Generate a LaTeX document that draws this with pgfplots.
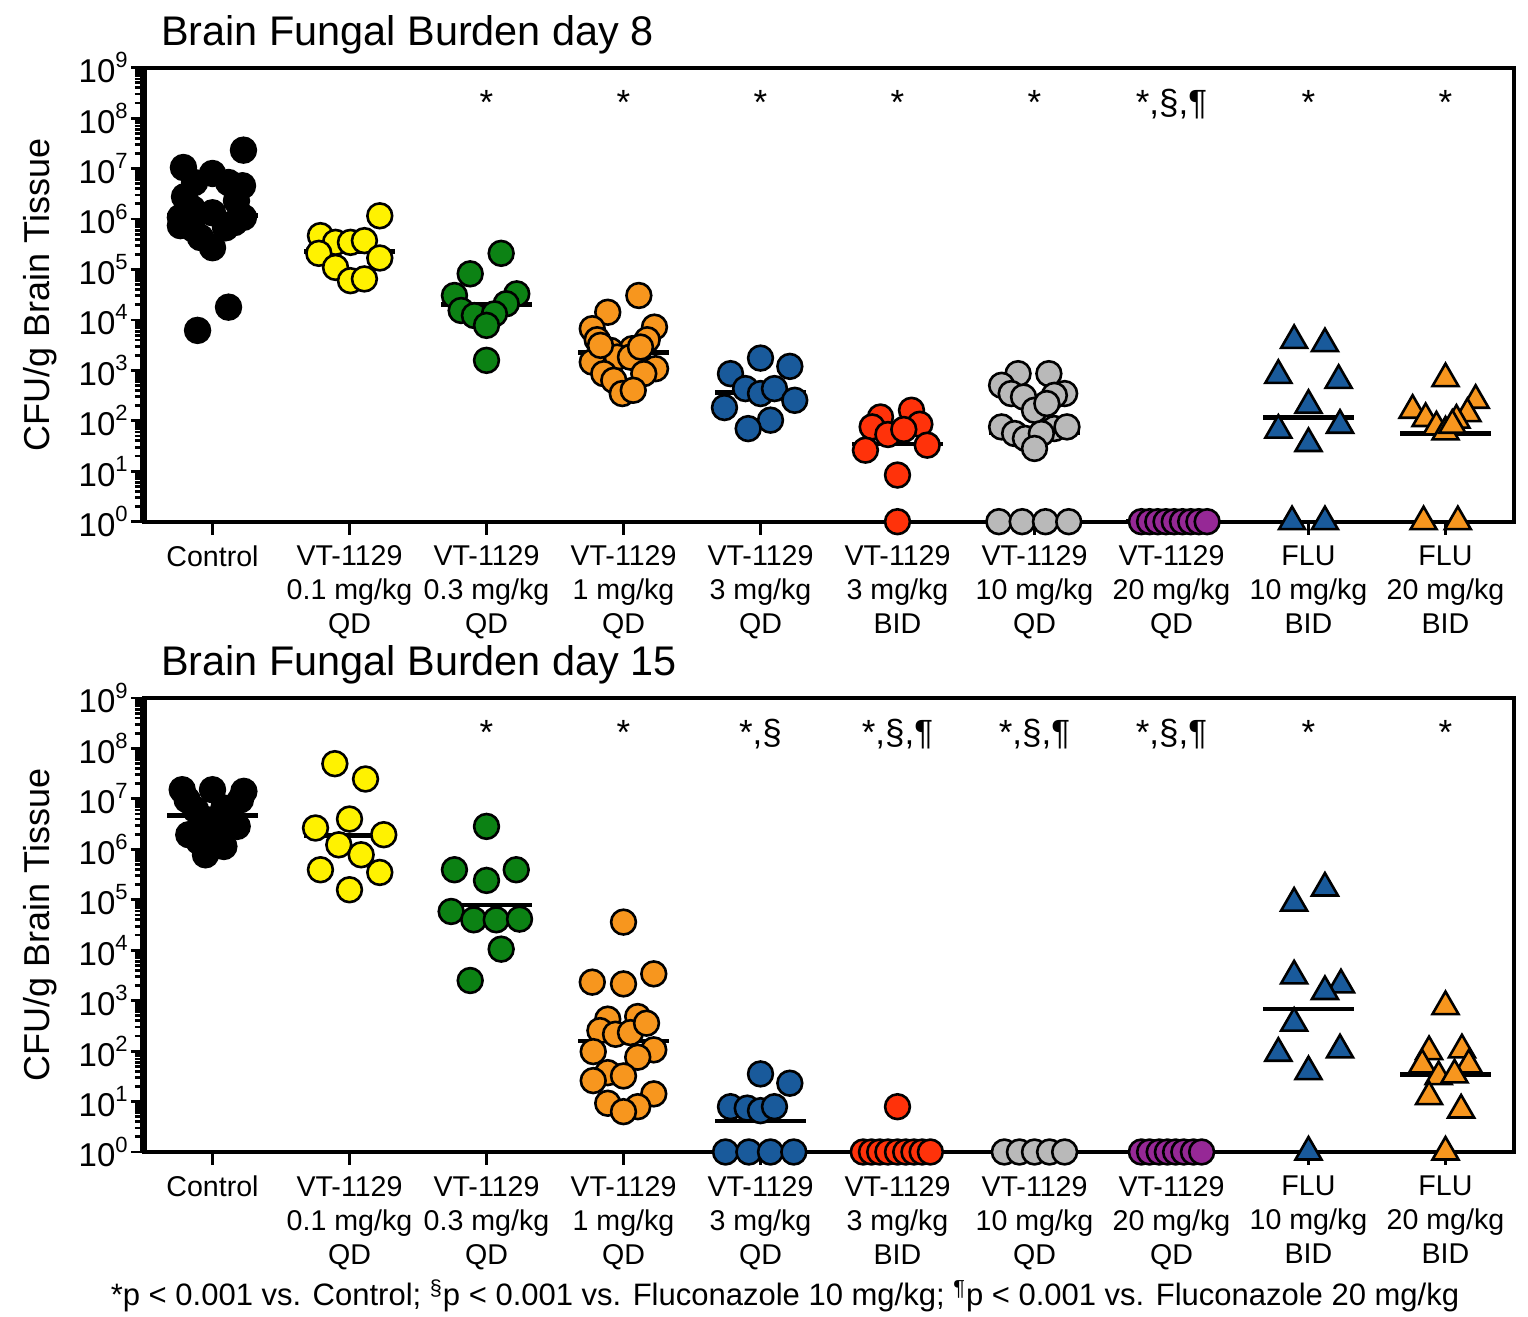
\documentclass[border=0pt]{standalone}
\usepackage{pgfplots}
\pgfplotsset{compat=1.18}
\usepackage{fontspec}
\setmainfont{Liberation Sans}

\definecolor{cyel}{RGB}{255,242,0}
\definecolor{cgrn}{RGB}{12,130,20}
\definecolor{corg}{RGB}{247,150,30}
\definecolor{cblu}{RGB}{25,90,155}
\definecolor{cred}{RGB}{255,50,10}
\definecolor{cgry}{RGB}{185,185,185}
\definecolor{cpur}{RGB}{150,40,150}

\newcommand{\tenpow}[1]{10\raisebox{0.45em}{\fontsize{11}{11}\selectfont#1}}

\tikzset{ann/.style={anchor=base, font=\fontsize{17.5}{17.5}\selectfont}}
\pgfplotsset{
  grpdot/.style={only marks, mark=*, mark size=6.2pt,
    mark options={draw=black, line width=1.3pt, fill=#1}},
  grptri/.style={only marks, mark=triangle*, mark size=7.5pt,
    mark options={draw=black, line width=1.3pt, fill=#1}},
  medline/.style={no marks, black, line width=2.3pt},
}

\begin{document}
\begin{tikzpicture}
\path[use as bounding box] (0,0) rectangle (764pt,658.5pt);

% ---------------- day 8 ----------------
\begin{axis}[at={(72pt,397.65pt)}, anchor=south west,
    width=685pt, height=227pt, scale only axis, clip=false,
    xmin=-0.5, xmax=9.5,
    ymode=log, log basis y=10, ymin=1, ymax=1e9,
    ytickten={0,...,9},
    extra y ticks={2,3,4,5,6,7,8,9,20,30,40,50,60,70,80,90,200,300,400,500,600,700,800,900,2000,3000,4000,5000,6000,7000,8000,9000,2e4,3e4,4e4,5e4,6e4,7e4,8e4,9e4,2e5,3e5,4e5,5e5,6e5,7e5,8e5,9e5,2e6,3e6,4e6,5e6,6e6,7e6,8e6,9e6,2e7,3e7,4e7,5e7,6e7,7e7,8e7,9e7,2e8,3e8,4e8,5e8,6e8,7e8,8e8,9e8},
    extra y tick labels={},
    extra y tick style={major tick length=4.5pt},
    yticklabel={\tenpow{\pgfmathprintnumber[assume math mode=true]{\tick}}},
    yticklabel style={font=\fontsize{16.5}{16.5}\selectfont, inner sep=1.5pt},
    xtick={0,...,9},
    xticklabels={Control,{VT-1129\\0.1 mg/kg\\QD},{VT-1129\\0.3 mg/kg\\QD},
      {VT-1129\\1 mg/kg\\QD},{VT-1129\\3 mg/kg\\QD},{VT-1129\\3 mg/kg\\BID},
      {VT-1129\\10 mg/kg\\QD},{VT-1129\\20 mg/kg\\QD},{FLU\\10 mg/kg\\BID},
      {FLU\\20 mg/kg\\BID}},
    xticklabel style={align=center, font=\fontsize{14.3}{17}\selectfont, yshift=-2pt},
    ytick pos=left, xtick pos=bottom, tick align=outside,
    major tick length=6.5pt, minor tick length=4.5pt,
    every tick/.style={black, line width=1.4pt},
    axis line style={line width=2pt},
    ylabel={CFU/g Brain Tissue},
    ylabel style={at={(axis description cs:-0.076,0.5)}, anchor=center,
      font=\fontsize{18}{18}\selectfont}]
\addplot[grpdot=black] coordinates {
 (0.226,2.32e7) (-0.212,1.05e7) (0,8.0e6) (-0.131,5.3e6) (0.117,5.3e6)
 (0.219,4.57e6) (-0.204,2.77e6) (-0.146,1.6e6) (0.175,2.3e6) (-0.234,1.08e6)
 (0.226,1.08e6) (-0.234,7.4e5) (0.095,6.7e5) (-0.088,4.3e5) (0.161,8.5e5)
 (0,2.7e5) (-0.146,6.5e5) (0,1.33e6) (0.117,1.79e4) (-0.109,6.2e3)};
\addplot[grpdot=cyel] coordinates {
 (1.221,1.16e6) (0.788,4.69e5) (0.898,3.45e5) (1.007,3.45e5) (1.109,3.73e5)
 (0.776,2.09e5) (1.221,1.69e5) (0.898,1.1e5) (1.007,6.0e4) (1.109,6.5e4)};
\addplot[grpdot=cgrn] coordinates {
 (2.107,2.09e5) (1.881,8.2e4) (1.766,3.05e4) (2.221,3.29e4) (2.144,2.09e4)
 (1.815,1.54e4) (1.912,1.22e4) (2.058,1.32e4) (2,7.8e3) (2,1.58e3)};
\addplot[grpdot=corg] coordinates {
 (3.112,3.05e4) (2.885,1.42e4) (2.772,6.7e3) (3.226,7.2e3) (2.808,4.05e3)
 (3.173,4.05e3) (2.905,2.49e3) (3.064,2.69e3) (2.954,1.83e3) (3.051,1.83e3)
 (2.772,1.46e3) (3.234,1.08e3) (2.856,8.6e2) (3.148,8.6e2) (2.929,6.35e2)
 (2.991,3.47e2) (3.071,4.03e2) (3.124,2.9e3) (2.832,3.13e3)};
\addplot[grpdot=cblu] coordinates {
 (4,1.75e3) (3.781,8.6e2) (4.214,1.2e3) (3.891,4.35e2) (4,3.47e2)
 (4.102,4.35e2) (4.25,2.55e2) (3.737,1.83e2) (4.073,1.03e2) (3.91,70)};
\addplot[grpdot=cred] coordinates {
 (4.876,119) (5.102,162) (4.815,75.7) (5.163,85.5) (4.93,53.5)
 (5.046,67.3) (4.766,26.2) (5.217,32.9) (5,8.4) (5,1)};
\addplot[grpdot=cgry] coordinates {
 (5.88,860) (6.105,860) (5.76,506) (6.22,347) (5.83,347) (5.92,297)
 (6.145,320) (6,162) (6.09,220) (5.76,75.7) (5.855,56) (5.934,44.7)
 (6.145,70.3) (6.237,75.7) (6.05,56) (6,28.3)
 (5.74,1) (5.91,1) (6.08,1) (6.25,1)};
\addplot[grpdot=cpur] coordinates {
 (6.78,1) (6.84,1) (6.9,1) (6.96,1) (7.02,1) (7.08,1) (7.14,1) (7.2,1) (7.26,1)};
\addplot[grptri=cblu] coordinates {
 (7.895,3.92e3) (8.12,3.38e3) (7.78,797) (8.22,635) (8,203)
 (7.78,65.2) (8.23,81.8) (8,35.5) (7.88,1) (8.12,1)};
\addplot[grptri=corg] coordinates {
 (9,686) (9.22,255) (8.76,162) (9.16,139) (8.855,111)
 (9.08,103) (8.934,75.7) (9,60.3) (9.05,81.8) (8.84,1) (9.09,1)};
% medians
\addplot[medline] coordinates {(-0.33,1.16e6) (0.33,1.16e6)};
\addplot[medline] coordinates {(0.67,2.26e5) (1.33,2.26e5)};
\addplot[medline] coordinates {(1.67,2.0e4) (2.33,2.0e4)};
\addplot[medline] coordinates {(2.67,2.24e3) (3.33,2.24e3)};
\addplot[medline] coordinates {(3.67,363) (4.33,363)};
\addplot[medline] coordinates {(4.67,34.4) (5.33,34.4)};
\addplot[medline] coordinates {(5.67,57.5) (6.33,57.5)};
\addplot[medline] coordinates {(6.67,1) (7.33,1)};
\addplot[medline] coordinates {(7.67,116) (8.33,116)};
\addplot[medline] coordinates {(8.67,56) (9.33,56)};
% significance marks
\node[ann] at (axis cs:2,1.2e8) {*};
\node[ann] at (axis cs:3,1.2e8) {*};
\node[ann] at (axis cs:4,1.2e8) {*};
\node[ann] at (axis cs:5,1.2e8) {*};
\node[ann] at (axis cs:6,1.2e8) {*};
\node[ann] at (axis cs:7,1.2e8) {*,§,¶};
\node[ann] at (axis cs:8,1.2e8) {*};
\node[ann] at (axis cs:9,1.2e8) {*};
\draw[line width=3.5pt] (rel axis cs:0,0) -- (rel axis cs:0,1);
\node[anchor=base west, font=\fontsize{20.7}{20.7}\selectfont]
  at (axis description cs:0.0075,1.048) {Brain Fungal Burden day 8};
\end{axis}

% ---------------- day 15 ----------------
\begin{axis}[at={(72pt,82.5pt)}, anchor=south west,
    width=685pt, height=227pt, scale only axis, clip=false,
    xmin=-0.5, xmax=9.5,
    ymode=log, log basis y=10, ymin=1, ymax=1e9,
    ytickten={0,...,9},
    extra y ticks={2,3,4,5,6,7,8,9,20,30,40,50,60,70,80,90,200,300,400,500,600,700,800,900,2000,3000,4000,5000,6000,7000,8000,9000,2e4,3e4,4e4,5e4,6e4,7e4,8e4,9e4,2e5,3e5,4e5,5e5,6e5,7e5,8e5,9e5,2e6,3e6,4e6,5e6,6e6,7e6,8e6,9e6,2e7,3e7,4e7,5e7,6e7,7e7,8e7,9e7,2e8,3e8,4e8,5e8,6e8,7e8,8e8,9e8},
    extra y tick labels={},
    extra y tick style={major tick length=4.5pt},
    yticklabel={\tenpow{\pgfmathprintnumber[assume math mode=true]{\tick}}},
    yticklabel style={font=\fontsize{16.5}{16.5}\selectfont, inner sep=1.5pt},
    xtick={0,...,9},
    xticklabels={Control,{VT-1129\\0.1 mg/kg\\QD},{VT-1129\\0.3 mg/kg\\QD},
      {VT-1129\\1 mg/kg\\QD},{VT-1129\\3 mg/kg\\QD},{VT-1129\\3 mg/kg\\BID},
      {VT-1129\\10 mg/kg\\QD},{VT-1129\\20 mg/kg\\QD},{FLU\\10 mg/kg\\BID},
      {FLU\\20 mg/kg\\BID}},
    xticklabel style={align=center, font=\fontsize{14.3}{17}\selectfont, yshift=-2pt},
    ytick pos=left, xtick pos=bottom, tick align=outside,
    major tick length=6.5pt, minor tick length=4.5pt,
    every tick/.style={black, line width=1.4pt},
    axis line style={line width=2pt},
    ylabel={CFU/g Brain Tissue},
    ylabel style={at={(axis description cs:-0.076,0.5)}, anchor=center,
      font=\fontsize{18}{18}\selectfont}]
\addplot[grpdot=black] coordinates {
 (-0.221,1.52e7) (0,1.52e7) (0.229,1.41e7) (-0.185,9.6e6) (0.204,9.6e6)
 (-0.124,6.1e6) (0.083,6.6e6) (0.18,2.85e6) (-0.173,1.95e6) (0.07,1.8e6)
 (-0.1,1.44e6) (0.083,1.14e6) (-0.051,7.8e5) (-0.04,3.87e6) (0.131,3.87e6)};
\addplot[grpdot=cyel] coordinates {
 (0.893,4.99e7) (1.117,2.48e7) (1,3.99e6) (0.752,2.65e6) (1.25,1.95e6)
 (0.922,1.23e6) (1.085,7.8e5) (0.788,3.94e5) (1.221,3.48e5) (1,1.58e5)};
\addplot[grpdot=cgrn] coordinates {
 (2,2.85e6) (1.766,3.94e5) (2.217,3.94e5) (2,2.42e5) (1.742,5.86e4)
 (1.907,4.01e4) (2.071,4.01e4) (2.241,4.14e4) (2.107,1.05e4) (1.881,2.51e3)};
\addplot[grpdot=corg] coordinates {
 (3,3.61e4) (2.772,2.33e3) (3,2.15e3) (3.221,3.4e3) (2.885,430)
 (3.104,484) (2.828,255) (2.942,216) (3.051,233) (3.168,358)
 (2.779,97.7) (3.221,106) (3.104,75.7) (2.885,37.4) (2.779,26)
 (3,32.2) (2.885,9.25) (3.221,14.2) (3.104,7.9) (3,6.3)};
\addplot[grpdot=cblu] coordinates {
 (4,35.3) (4.214,23.1) (3.781,7.9) (3.903,7.4) (4,6.6) (4.102,7.9)
 (3.745,1) (3.915,1) (4.073,1) (4.243,1)};
\addplot[grpdot=cred] coordinates {
 (5,7.9) (4.75,1) (4.81,1) (4.87,1) (4.93,1) (5,1) (5.06,1) (5.12,1)
 (5.18,1) (5.24,1)};
\addplot[grpdot=cgry] coordinates {
 (5.78,1) (5.89,1) (6,1) (6.11,1) (6.22,1)};
\addplot[grpdot=cpur] coordinates {
 (6.78,1) (6.84,1) (6.91,1) (6.97,1) (7.03,1) (7.09,1) (7.16,1) (7.22,1)};
\addplot[grptri=cblu] coordinates {
 (8.12,1.71e5) (7.895,8.6e4) (7.895,3.1e3) (8.237,2.06e3) (8.12,1.52e3)
 (7.895,358) (7.78,90.8) (8.23,106) (8,39.2) (8,1)};
\addplot[grptri=corg] coordinates {
 (9,764) (8.88,97.7) (9.12,106) (8.83,53.2) (9.17,53.2)
 (8.95,31.2) (9.066,33.7) (8.88,12.5) (9.114,6.8) (9,1)};
% medians
\addplot[medline] coordinates {(-0.33,4.64e6) (0.33,4.64e6)};
\addplot[medline] coordinates {(0.67,1.89e6) (1.33,1.89e6)};
\addplot[medline] coordinates {(1.67,7.95e4) (2.33,7.95e4)};
\addplot[medline] coordinates {(2.67,159) (3.33,159)};
\addplot[medline] coordinates {(3.67,4.12) (4.33,4.12)};
\addplot[medline] coordinates {(4.67,1) (5.33,1)};
\addplot[medline] coordinates {(5.67,1) (6.33,1)};
\addplot[medline] coordinates {(6.67,1) (7.33,1)};
\addplot[medline] coordinates {(7.67,687) (8.33,687)};
\addplot[medline] coordinates {(8.67,34.8) (9.33,34.8)};
% significance marks
\node[ann] at (axis cs:2,1.2e8) {*};
\node[ann] at (axis cs:3,1.2e8) {*};
\node[ann] at (axis cs:4,1.2e8) {*,§};
\node[ann] at (axis cs:5,1.2e8) {*,§,¶};
\node[ann] at (axis cs:6,1.2e8) {*,§,¶};
\node[ann] at (axis cs:7,1.2e8) {*,§,¶};
\node[ann] at (axis cs:8,1.2e8) {*};
\node[ann] at (axis cs:9,1.2e8) {*};
\draw[line width=3.5pt] (rel axis cs:0,0) -- (rel axis cs:0,1);
\node[anchor=base west, font=\fontsize{20.7}{20.7}\selectfont]
  at (axis description cs:0.0075,1.05) {Brain Fungal Burden day 15};
\end{axis}

\node[anchor=base, font=\fontsize{15.5}{15.5}\selectfont] at (392.5pt,5.5pt)
  {*p < 0.001 vs. Control; \textsuperscript{§}p < 0.001 vs. Fluconazole 10 mg/kg; \textsuperscript{¶}p < 0.001 vs. Fluconazole 20 mg/kg};
\end{tikzpicture}
\end{document}
